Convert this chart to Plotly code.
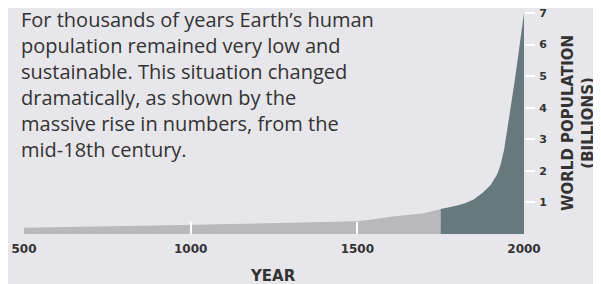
import plotly.graph_objects as go

# Data (world population, billions)
years_pre = [500, 600, 700, 800, 900, 1000, 1100, 1200, 1300, 1400, 1500, 1550, 1600, 1650, 1700, 1750]
pop_pre = [0.20, 0.21, 0.23, 0.25, 0.27, 0.29, 0.31, 0.33, 0.36, 0.37, 0.40, 0.47, 0.55, 0.60, 0.66, 0.79]
years_post = [1750, 1775, 1800, 1825, 1850, 1875, 1900, 1920, 1930, 1940, 1950, 1960, 1970, 1980, 1990, 2000]
pop_post = [0.79, 0.84, 0.90, 0.98, 1.10, 1.30, 1.55, 1.90, 2.20, 2.65, 3.30, 4.00, 4.70, 5.45, 6.30, 7.00]
x_ticks = [500, 1000, 1500, 2000]
y_ticks = [1, 2, 3, 4, 5, 6, 7]

BG = "#e7e6eb"
LIGHT = "#b9b8bd"
DARK = "#68797e"
TXT = "#333333"

fig = go.Figure()
fig.add_trace(go.Scatter(x=years_pre, y=pop_pre, mode="lines", fill="tozeroy",
                         line=dict(width=0, color=LIGHT), fillcolor=LIGHT,
                         hoverinfo="skip", showlegend=False))
fig.add_trace(go.Scatter(x=years_post, y=pop_post, mode="lines", fill="tozeroy",
                         line=dict(width=0, color=DARK), fillcolor=DARK,
                         hoverinfo="skip", showlegend=False))

fig.update_layout(
    width=593, height=276,
    margin=dict(l=16, r=77, t=4.5, b=50, autoexpand=False),
    paper_bgcolor=BG, plot_bgcolor=BG,
    font=dict(family="DejaVu Sans", color=TXT),
    xaxis=dict(range=[500, 2000], tickvals=x_ticks, ticktext=[str(v) for v in x_ticks],
               ticks="", showgrid=False, zeroline=False, showline=False, automargin=False,
               ticklabelstandoff=6, ticklabeloverflow="allow",
               tickfont=dict(family="DejaVu Sans", size=12, color=TXT, weight="bold"),
               minor=dict(tickvals=[1000, 1500], ticks="inside", ticklen=12,
                          tickcolor="white", tickwidth=2, showgrid=False),
               layer="above traces"),
    yaxis=dict(range=[0, 7], side="right", tickvals=y_ticks, ticks="outside",
               ticklen=10, tickwidth=2, tickcolor="white", showgrid=False,
               zeroline=False, showline=False, automargin=False, ticklabelstandoff=2,
               ticklabeloverflow="allow",
               tickfont=dict(family="DejaVu Sans", size=11, color=TXT, weight="bold")),
)

fig.add_annotation(
    xref="paper", yref="paper", x=-0.008, y=1.035, xanchor="left", yanchor="top",
    align="left", showarrow=False, borderpad=0,
    text=("For thousands of years Earth’s human<br>population remained very low and<br>"
          "sustainable. This situation changed<br>dramatically, as shown by the<br>"
          "massive rise in numbers, from the<br>mid-18th century."),
    font=dict(family="Open Sans", size=20, color=TXT),
)
fig.add_annotation(
    xref="paper", yref="paper", x=1.107, y=0.5, xanchor="center", yanchor="middle",
    textangle=-90, showarrow=False,
    text="WORLD POPULATION<br>(BILLIONS)",
    font=dict(family="DejaVu Sans", size=15, color=TXT, weight="bold"),
)
fig.add_annotation(
    xref="paper", yref="paper", x=0.497, y=-0.19, xanchor="center", yanchor="middle",
    showarrow=False, text="YEAR",
    font=dict(family="DejaVu Sans", size=15, color=TXT, weight="bold"),
)

fig.write_html("out.html")
